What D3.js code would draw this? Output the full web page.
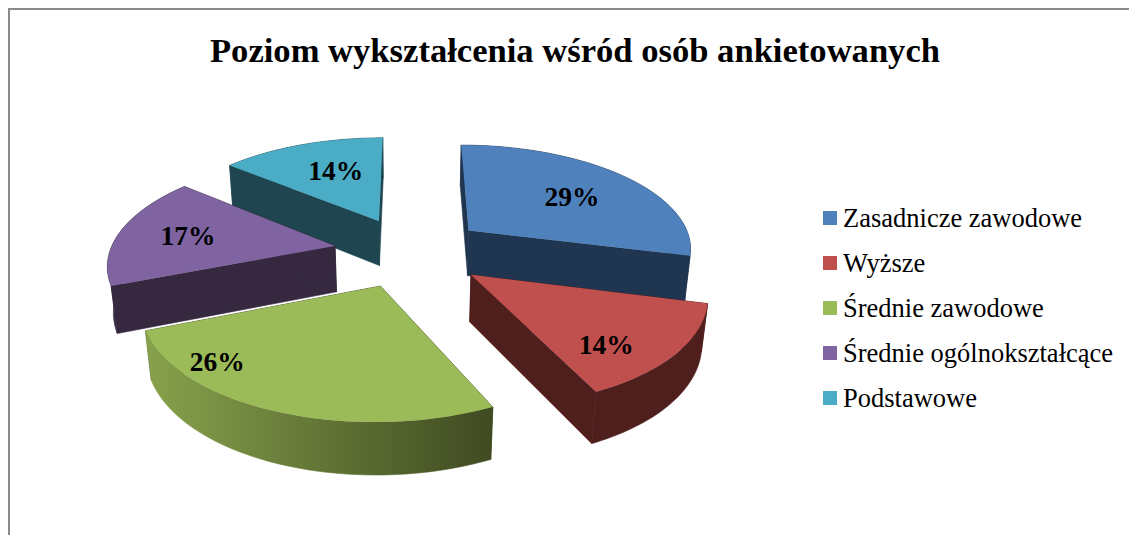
<!DOCTYPE html>
<html lang="pl">
<head>
<meta charset="utf-8">
<title>Poziom wykształcenia</title>
<script src="https://cdn.jsdelivr.net/npm/d3@7"></script>
<style>
    html, body { margin: 0; padding: 0; background: #fff; overflow: hidden; }
    text { font-family: "Liberation Serif", serif; fill: #000; }
</style>
</head>
<body>
<div id="chart"></div>
<script>
// Chart data.
const chartTitle = "Poziom wykształcenia wśród osób ankietowanych";
const categories = ["Zasadnicze zawodowe", "Wyższe", "Średnie zawodowe", "Średnie ogólnokształcące", "Podstawowe"];
const shares = [29, 14, 26, 17, 14];

// Colours of each slice: top, and the two ends of the side shading.
const topColors = ["#4f81bd", "#c0504d", "#9bbb59", "#8064a2", "#4bacc6"];
const sideLeft = ["#1f3550", "#4f1f1d", "#87a24c", "#35283f", "#1f4650"];
const sideRight = ["#1f3550", "#4f1f1d", "#3f4a21", "#35283f", "#1f4650"];

// Where the percent label sits inside each slice (degrees clockwise, radius).
const labelAngle = [54.6, 138.3, 225.7, 278.7, 338.5];
const labelRadius = [0.63, 0.763, 0.858, 0.682, 0.625];

// Back to front, so nearer slices cover the ones behind.
const drawOrder = [4, 0, 3, 1, 2];

const width = 1129;
const height = 535;

// Projection of the tilted pie.
const view = { cx: 410, cy: 251.5, rx: 225, ry: 104, thick: 47, persp: 0.15, sink: 0.02, explode: 0.34 };

function project(u, v, h) {
    const w = 1 + view.persp * v + view.sink * h;
    return [view.cx + view.rx * u / w, view.cy - (view.ry * v - view.thick * h) / w];
}

let svg = d3.select("#chart")
    .append("svg")
    .attr("width", width)
    .attr("height", height);

// Frame, only top and left are inside the picture.
svg.append("path")
    .attr("d", d3.line()([[9, height], [9, 9], [width, 9]]))
    .attr("fill", "none")
    .attr("stroke", "#8a8a8a")
    .attr("stroke-width", 2);

// Create chart title.
svg.append("text")
    .attr("x", 575)
    .attr("y", 62)
    .attr("text-anchor", "middle")
    .style("font-size", "34.6px")
    .style("font-weight", "bold")
    .text(chartTitle);

// Slices.
const pie = d3.pie().sort(null).startAngle(0).endAngle(2 * Math.PI);
const slices = pie(shares);
const line = d3.line();
const defs = svg.append("defs");

// Move a slice outwards along its middle angle.
function apexOf(d) {
    const mid = (d.startAngle + d.endAngle) / 2;
    return [view.explode * Math.sin(mid), view.explode * Math.cos(mid)];
}

function rimPoints(d, h) {
    const [ax, ay] = apexOf(d);
    return d3.range(0, 41).map(i => {
        const a = d.startAngle + (d.endAngle - d.startAngle) * i / 40;
        return project(ax + Math.sin(a), ay + Math.cos(a), h);
    });
}

drawOrder.forEach(i => {
    const d = slices[i];
    const [ax, ay] = apexOf(d);
    const top = rimPoints(d, 0);
    const bottom = rimPoints(d, 1);
    const apexTop = project(ax, ay, 0);
    const apexBottom = project(ax, ay, 1);
    const g = svg.append("g").attr("class", "slice");

    // Side shading runs left to right over the width of the slice.
    const xExtent = d3.extent(top.concat(bottom), p => p[0]);
    const grad = defs.append("linearGradient")
        .attr("id", "side" + i)
        .attr("gradientUnits", "userSpaceOnUse")
        .attr("x1", xExtent[0]).attr("x2", xExtent[1])
        .attr("y1", 0).attr("y2", 0);
    grad.append("stop").attr("offset", 0).attr("stop-color", sideLeft[i]);
    grad.append("stop").attr("offset", 1).attr("stop-color", sideRight[i]);

    // Two flat cut faces.
    [0, top.length - 1].forEach(k => {
        g.append("path")
            .attr("d", line([apexTop, top[k], bottom[k], apexBottom]) + "Z")
            .attr("fill", sideRight[i])
            .attr("stroke", sideRight[i])
            .attr("stroke-width", 0.6);
    });

    // Round outer wall, stroked so no seam shows next to the cut face.
    g.append("path")
        .attr("d", line(top.concat(bottom.slice().reverse())) + "Z")
        .attr("fill", `url(#side${i})`)
        .attr("stroke", `url(#side${i})`)
        .attr("stroke-width", 0.6);

    // Top face.
    g.append("path")
        .attr("d", line([apexTop].concat(top)) + "Z")
        .attr("fill", topColors[i]);
});

// Percent labels go on top of everything.
slices.forEach((d, i) => {
    const [ax, ay] = apexOf(d);
    const a = labelAngle[i] * Math.PI / 180;
    const p = project(ax + labelRadius[i] * Math.sin(a), ay + labelRadius[i] * Math.cos(a), 0);
    svg.append("text")
        .attr("x", p[0])
        .attr("y", p[1])
        .attr("dy", "0.35em")
        .attr("text-anchor", "middle")
        .style("font-size", "27.5px")
        .style("font-weight", "bold")
        .text(shares[i] + "%");
});

// Create a legend.
const legendY = d3.scalePoint().domain(categories).range([218, 398]);
let legend = svg.append("g").attr("class", "legend");

legend.selectAll("rect")
    .data(categories)
    .enter().append("rect")
    .attr("x", 823)
    .attr("y", d => legendY(d) - 7)
    .attr("width", 14)
    .attr("height", 14)
    .style("fill", (d, i) => topColors[i]);

legend.selectAll("text")
    .data(categories)
    .enter().append("text")
    .attr("x", 843)
    .attr("y", d => legendY(d) + 9)
    .style("font-size", "26.5px")
    .text(d => d);
</script>
</body>
</html>
